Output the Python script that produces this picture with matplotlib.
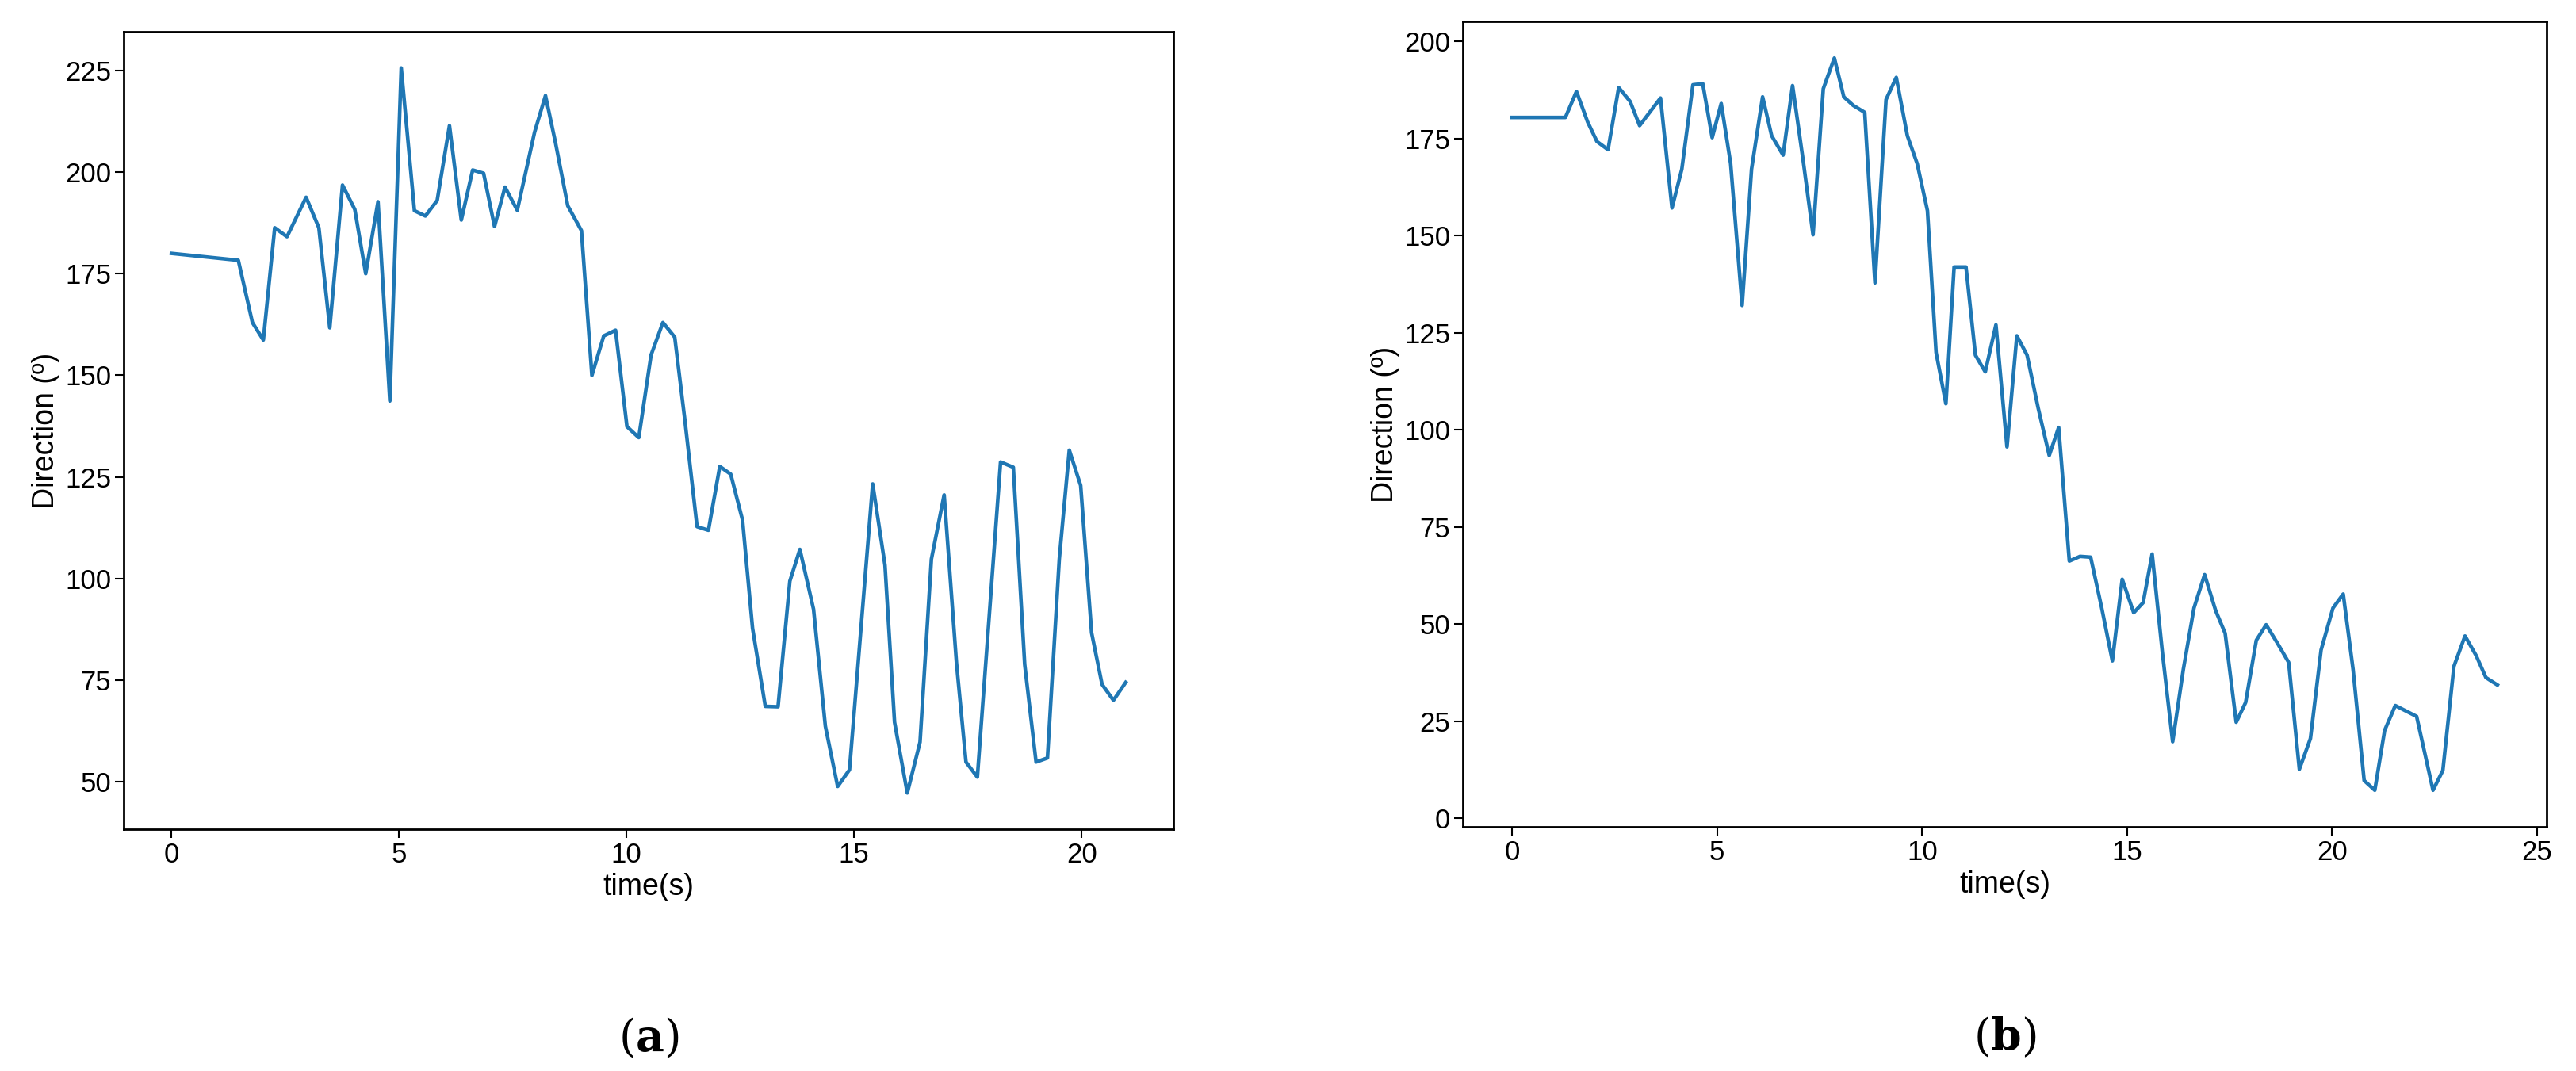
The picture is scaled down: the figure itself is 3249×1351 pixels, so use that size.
import matplotlib
matplotlib.use("Agg")
import matplotlib.pyplot as plt

plt.rcParams["mathtext.fontset"] = "dejavuserif"

# panel (a)
t_a = [0, 1.47, 1.78, 2.02, 2.27, 2.54, 2.96, 3.24, 3.48, 3.76, 4.03, 4.27, 4.54, 4.8,
       5.05, 5.34, 5.58, 5.84, 6.11, 6.37, 6.62, 6.86, 7.1, 7.33, 7.6, 7.98, 8.22, 8.44,
       8.71, 9.01, 9.24, 9.5, 9.76, 10.01, 10.27, 10.54, 10.8, 11.06, 11.29, 11.55, 11.8,
       12.05, 12.29, 12.55, 12.77, 13.05, 13.33, 13.59, 13.81, 14.11, 14.37, 14.64, 14.9,
       15.41, 15.68, 15.89, 16.17, 16.45, 16.7, 16.98, 17.25, 17.46, 17.71, 18.22, 18.5,
       18.75, 19.0, 19.25, 19.51, 19.73, 19.98, 20.22, 20.45, 20.7, 20.97]
dir_a = [180, 178.3, 163, 158.7, 186.3, 184.1, 193.8, 186.3, 161.7, 196.8, 190.8, 175,
         192.7, 143.7, 225.6, 190.5, 189.2, 193, 211.4, 188.2, 200.5, 199.7, 186.6, 196.3,
         190.6, 209.8, 218.8, 207.2, 191.7, 185.6, 150, 159.7, 161.1, 137.4, 134.7, 155,
         163, 159.4, 138.3, 112.8, 111.9, 127.6, 125.7, 114.4, 87.8, 68.6, 68.5, 99.4,
         107.2, 92.5, 63.7, 48.9, 53, 123.3, 103.3, 64.7, 47.3, 59.8, 104.8, 120.6, 79.4,
         54.9, 51.2, 128.7, 127.4, 78.9, 54.9, 55.9, 104.8, 131.6, 122.9, 86.7, 74, 70.1, 74.5]

# panel (b)
t_b = [0, 1.3, 1.57, 1.84, 2.07, 2.34, 2.6, 2.88, 3.11, 3.62, 3.9, 4.14, 4.41, 4.65,
       4.88, 5.1, 5.33, 5.61, 5.84, 6.11, 6.33, 6.61, 6.84, 7.1, 7.34, 7.59, 7.86, 8.09,
       8.32, 8.6, 8.85, 9.12, 9.37, 9.64, 9.88, 10.13, 10.34, 10.58, 10.78, 11.07, 11.3,
       11.54, 11.8, 12.07, 12.31, 12.56, 12.83, 13.1, 13.33, 13.59, 13.85, 14.11, 14.38,
       14.64, 14.88, 15.16, 15.39, 15.61, 15.86, 16.11, 16.37, 16.63, 16.89, 17.16, 17.39,
       17.66, 17.89, 18.15, 18.39, 18.68, 18.94, 19.2, 19.47, 19.73, 20.02, 20.27, 20.51,
       20.78, 21.04, 21.28, 21.54, 21.8, 22.06, 22.46, 22.7, 22.97, 23.24, 23.51, 23.75, 24.03]
dir_b = [180.4, 180.4, 187.1, 179.3, 174.2, 172.1, 188.1, 184.5, 178.3, 185.4, 157.1,
         167.1, 188.8, 189.1, 175.2, 184, 168.5, 132, 167.1, 185.7, 175.7, 170.7, 188.6,
         169.2, 150.2, 187.8, 195.7, 185.7, 183.5, 181.7, 137.8, 185, 190.7, 175.7, 168.5,
         156.4, 119.9, 106.7, 141.9, 141.9, 119.2, 114.9, 127, 95.6, 124.2, 119.2, 105.6,
         93.4, 100.6, 66.2, 67.4, 67.2, 54.1, 40.5, 61.5, 52.9, 55.5, 68, 42.6, 19.7, 38.3,
         54.1, 62.7, 53.4, 47.6, 24.7, 29.8, 45.8, 49.8, 44.8, 40.1, 12.6, 20.5, 43.3, 54.1,
         57.7, 38.3, 9.7, 7.2, 22.6, 29, 27.6, 26.2, 7.2, 12.3, 39.1, 46.9, 41.9, 36.2, 34.3]

W, H = 3249, 1351
fig = plt.figure(figsize=(W / 100, H / 100), dpi=100)
ax_a = fig.add_axes([156 / W, 1 - 1046 / H, (1480 - 156) / W, (1046 - 40) / H])
ax_b = fig.add_axes([1845 / W, 1 - 1043 / H, (3212 - 1845) / W, (1043 - 27) / H])

for ax, t, d, tag in [(ax_a, t_a, dir_a, "a"), (ax_b, t_b, dir_b, "b")]:
    ax.plot(t, d, color="#1f77b4", lw=3.3)
    ax.set_xlabel("time(s)", fontsize=27, family="Liberation Sans", labelpad=4)
    ax.set_ylabel("Direction (º)", fontsize=27, family="Liberation Sans")
    ax.tick_params(labelsize=25, width=1.5, length=8)
    for lab in ax.get_xticklabels() + ax.get_yticklabels():
        lab.set_family("Liberation Sans")
    for s in ax.spines.values():
        s.set_linewidth(2)
    ax.text(0.5, -0.235, rf"($\mathbf{{{tag}}}$)", transform=ax.transAxes, ha="center",
            va="top", fontsize=40, family="DejaVu Serif")

ax_a.set_yticks([50, 75, 100, 125, 150, 175, 200, 225])
ax_b.set_yticks([0, 25, 50, 75, 100, 125, 150, 175, 200])
ax_b.set_xticks([0, 5, 10, 15, 20, 25])

fig.savefig("out.png", dpi=100)
